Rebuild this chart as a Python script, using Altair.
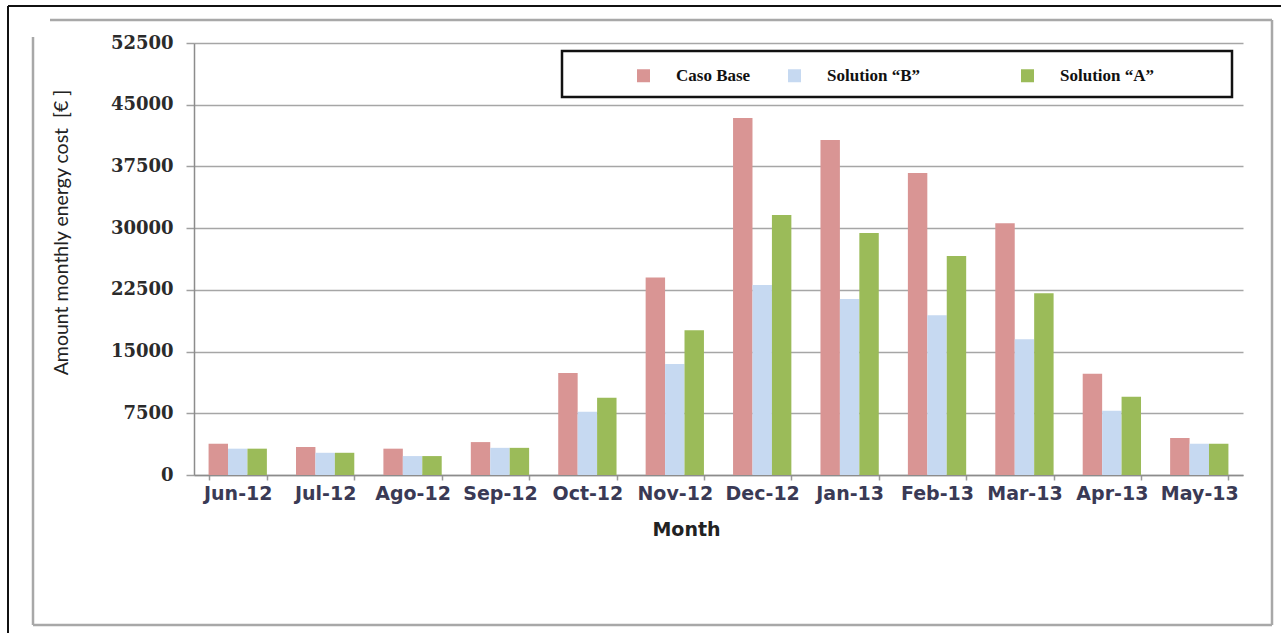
import altair as alt
import pandas as pd

months = ["Jun-12", "Jul-12", "Ago-12", "Sep-12", "Oct-12", "Nov-12",
          "Dec-12", "Jan-13", "Feb-13", "Mar-13", "Apr-13", "May-13"]
series = ["Caso Base", "Solution “B”", "Solution “A”"]
caso_base = [3800, 3400, 3200, 4000, 12400, 24000, 43400, 40700, 36700, 30600, 12300, 4500]
solution_b = [3200, 2700, 2300, 3300, 7700, 13500, 23100, 21400, 19400, 16500, 7800, 3800]
solution_a = [3200, 2700, 2300, 3300, 9400, 17600, 31600, 29400, 26600, 22100, 9500, 3800]
colors = ["#D99594", "#C6D9F1", "#9BBB59"]
y_ticks = [0, 7500, 15000, 22500, 30000, 37500, 45000, 52500]

rows = []
for s, vals in zip(series, [caso_base, solution_b, solution_a]):
    for m, v in zip(months, vals):
        rows.append({"Month": m, "Series": s, "Cost": v})
df = pd.DataFrame(rows)

pad = "\u00a0" * 15 + "\u200b"
label_expr = (f"indexof(datum.label, 'Solution') == 0 && indexof(datum.label, 'B') > 0"
              f" ? datum.label + '{pad}' : datum.label")

bars = alt.Chart(df).mark_bar().encode(
    x=alt.X("Month:N", sort=months,
            scale=alt.Scale(paddingInner=0.333, paddingOuter=0.1667),
            axis=alt.Axis(title="Month", labelAngle=0, grid=False,
                          labelFont="DejaVu Sans", labelFontWeight="bold", labelFontSize=19,
                          labelColor="#3a3a55", labelPadding=4,
                          tickBand="extent", tickSize=5, tickColor="#9a9a9a", tickWidth=1.5,
                          domainColor="#8c8c8c", domainWidth=1.5,
                          titleFont="DejaVu Sans", titleFontWeight="bold", titleFontSize=19,
                          titleColor="#222222", titleX=492, titleY=60,
                          titleBaseline="alphabetic", titleAnchor="middle")),
    xOffset=alt.XOffset("Series:N", sort=series),
    y=alt.Y("Cost:Q", scale=alt.Scale(domain=[0, 52500], nice=False, zero=True),
            axis=alt.Axis(title="Amount monthly energy cost \u00a0[€ ]", values=y_ticks, format="d",
                          labelFont="DejaVu Serif", labelFontWeight="bold", labelFontSize=18,
                          labelColor="#2b2b2b", labelPadding=13,
                          tickSize=8, tickColor="#a0a0a0", tickWidth=1.5,
                          domainColor="#8c8c8c", domainWidth=1.5,
                          grid=True, gridColor="#a6a6a6", gridWidth=1.5,
                          titleFont="Lato", titleFontWeight="normal", titleFontSize=19.5,
                          titleColor="#222222", titleAngle=270, titleX=-123, titleY=189,
                          titleBaseline="bottom", titleAlign="center")),
    color=alt.Color("Series:N", sort=series,
                    scale=alt.Scale(domain=series, range=colors),
                    legend=alt.Legend(title=None, orient="none", legendX=441, legendY=24,
                                      direction="horizontal", columns=3, columnPadding=35,
                                      symbolType="square", symbolSize=169, symbolStrokeWidth=0,
                                      labelOffset=24, labelFont="Liberation Serif",
                                      labelFontWeight="bold", labelFontSize=17,
                                      labelColor="#111111", labelExpr=label_expr,
                                      labelLimit=400, padding=0)),
)

one = pd.DataFrame({"k": [0]})


def rule(x, x2, y, y2, color, w):
    return alt.Chart(one).mark_rule(color=color, strokeWidth=w).encode(
        x=alt.value(x), x2=alt.value(x2), y=alt.value(y), y2=alt.value(y2))


frame = [
    rule(-144, 1078, -23, -23, "#a8a8a8", 2.5),
    rule(1078, 1078, -23, 582, "#a8a8a8", 2.5),
    rule(-161, 1078, 582, 582, "#a8a8a8", 2.5),
    rule(-161, -161, -6, 582, "#a8a8a8", 2.5),
    rule(-186, -186, -37, 600, "#111111", 2),
    rule(-186, 1100, -37, -37, "#111111", 2),
]

legend_box = alt.Chart(one).mark_rect(fill="white", stroke="#111111", strokeWidth=2.5).encode(
    x=alt.value(368), x2=alt.value(1038), y=alt.value(8), y2=alt.value(54))

chart = alt.layer(*frame, legend_box, bars).properties(
    width=1049, height=432,
    autosize=alt.AutoSizeParams(type="none"),
    padding={"left": 194, "top": 43, "right": 38, "bottom": 158},
    background="white",
).configure_view(stroke=None)

chart.save("out.html", embed_options={"renderer": "svg", "actions": False})
